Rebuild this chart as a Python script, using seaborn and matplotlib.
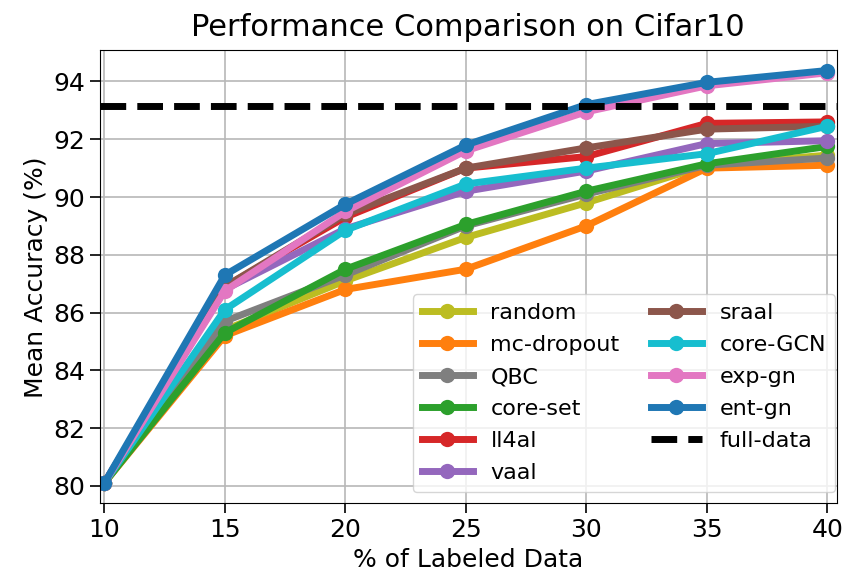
import matplotlib
matplotlib.use("Agg")
import matplotlib.pyplot as plt
import seaborn as sns
import pandas as pd

labeled = [10, 15, 20, 25, 30, 35, 40]
methods = ["random", "mc-dropout", "QBC", "core-set", "ll4al", "vaal",
           "sraal", "core-GCN", "exp-gn", "ent-gn"]
random_acc = [80.1, 85.4, 87.1, 88.6, 89.8, 91.1, 91.45]
mc_dropout = [80.1, 85.2, 86.8, 87.5, 89.0, 91.0, 91.1]
qbc = [80.1, 85.7, 87.3, 89.0, 90.1, 91.1, 91.35]
core_set = [80.1, 85.3, 87.5, 89.05, 90.2, 91.15, 91.75]
ll4al = [80.1, 86.9, 89.3, 91.0, 91.4, 92.55, 92.6]
vaal = [80.1, 86.8, 88.9, 90.2, 90.9, 91.85, 91.95]
sraal = [80.1, 86.9, 89.4, 91.0, 91.7, 92.35, 92.45]
core_gcn = [80.1, 86.1, 88.85, 90.45, 91.0, 91.5, 92.45]
exp_gn = [80.1, 86.75, 89.5, 91.6, 92.95, 93.85, 94.3]
ent_gn = [80.1, 87.3, 89.75, 91.8, 93.2, 93.97, 94.38]
full_data = 93.15
colors = ["tab:olive", "tab:orange", "tab:gray", "tab:green", "tab:red",
          "tab:purple", "tab:brown", "tab:cyan", "tab:pink", "tab:blue"]

series = [random_acc, mc_dropout, qbc, core_set, ll4al, vaal, sraal,
          core_gcn, exp_gn, ent_gn]
rows = []
for m, vals in zip(methods, series):
    for x, v in zip(labeled, vals):
        rows.append({"labeled": x, "acc": v, "method": m})
df = pd.DataFrame(rows)

fig = plt.figure(figsize=(8.46, 5.78), dpi=100)
ax = fig.add_axes([0.118, 0.129, 0.871, 0.784])
ax.grid(True, color="#b8b8b8", linewidth=1.2, zorder=0)
ax.set_axisbelow(True)

for m, c in zip(methods, colors):
    sub = df[df["method"] == m]
    sns.lineplot(data=sub, x="labeled", y="acc", ax=ax, color=c, label=m,
                 marker="o", markersize=11, markeredgewidth=0,
                 linewidth=5, legend=True)
ax.axhline(full_data, color="black", linestyle="--", linewidth=5,
           label="full-data")

ax.set_xlim(9.81, 40.39)
ax.set_ylim(79.39, 95.08)
ax.set_xticks([10, 15, 20, 25, 30, 35, 40])
ax.set_yticks([80, 82, 84, 86, 88, 90, 92, 94])
ax.tick_params(labelsize=18, length=7, width=1.2)
ax.set_xlabel("% of Labeled Data", fontsize=18)
ax.set_ylabel("Mean Accuracy (%)", fontsize=18)
ax.set_title("Performance Comparison on Cifar10", fontsize=22, pad=10)

handles, labels = ax.get_legend_handles_labels()
ax.legend(handles, labels, ncol=2, loc="lower right", fontsize=16,
          handlelength=2.3, columnspacing=1.4, labelspacing=0.54,
          borderaxespad=0, bbox_to_anchor=(0.9977, 0.025))

fig.savefig("out.png", dpi=100)
